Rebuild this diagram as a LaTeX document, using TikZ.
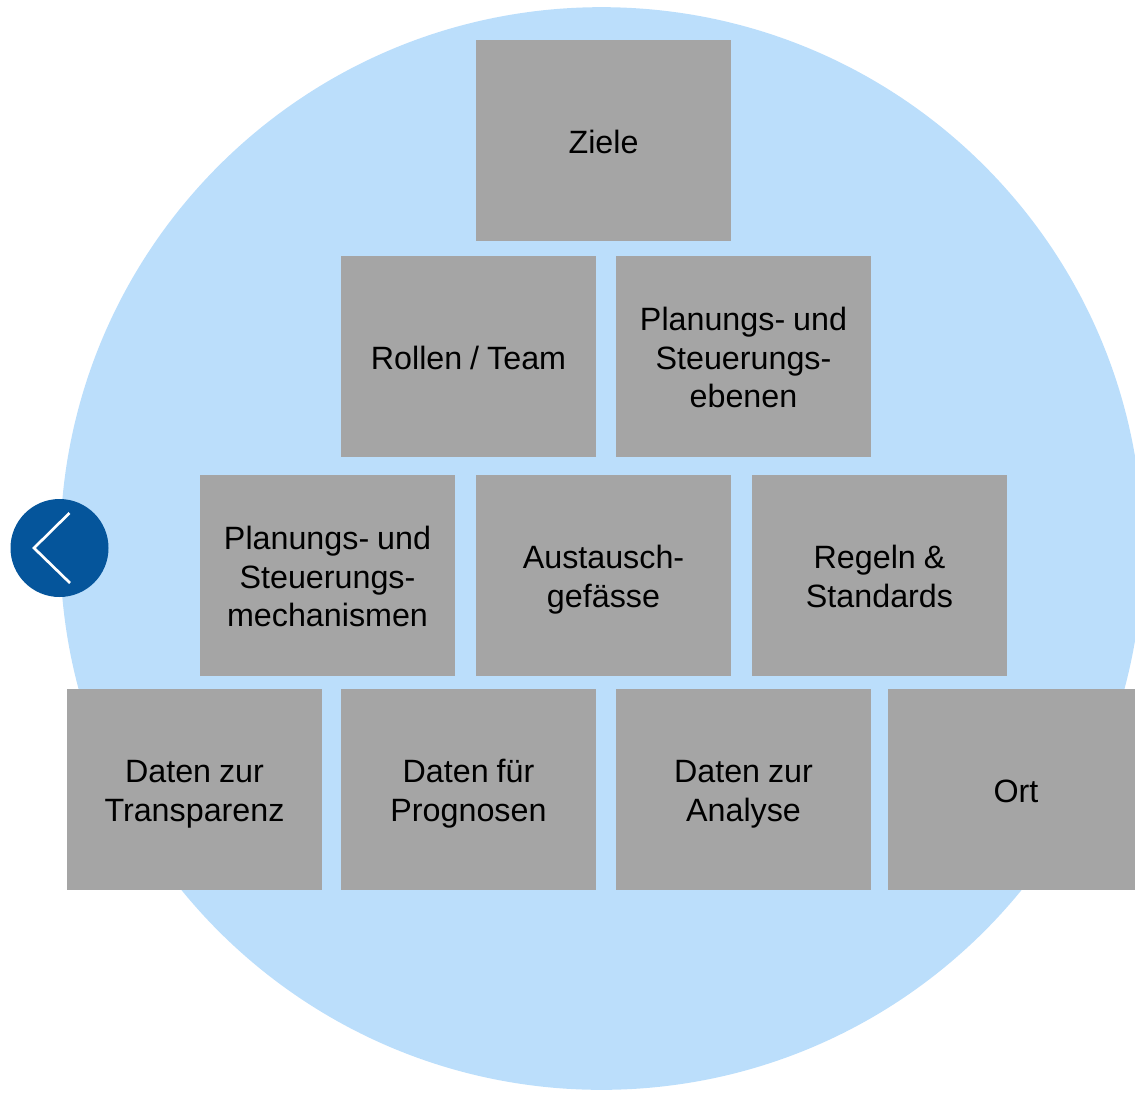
\documentclass[tikz,border=0pt]{standalone}
\usepackage{fontspec}
\setmainfont{Liberation Sans}
\usetikzlibrary{positioning}
\definecolor{circleblue}{RGB}{187,222,251}
\definecolor{boxgray}{RGB}{165,165,165}
\definecolor{backblue}{RGB}{5,85,155}
\newcommand{\boxstrut}{\rule{0pt}{\dimexpr0.7\baselineskip+7.5pt\relax}}
\tikzset{basic/.style={fill=boxgray,minimum width=191.25pt,minimum height=150.75pt,inner sep=0pt,align=center,text width=185pt,font=\fontsize{24.2}{28.9}\selectfont,execute at begin node={\spaceskip=0.245em\relax\boxstrut\strut},execute at end node=\strut}}
\tikzset{backline/.style={draw=white,line width=2pt}}
\begin{document}
\begin{tikzpicture}[x=0.75pt,y=-0.75pt]
        \useasboundingbox (0,0) rectangle (1135,1093);
        \begin{scope}
            \clip (0,0) rectangle (1135,1093);
            \node[circle,fill=circleblue,minimum size=812pt,inner sep=0pt] (disc) at (601.5,548.5) {};
        % bottom row
        \node[basic,minimum width=185.25pt] (ort) at (1011.5,789.5) {\hspace*{6.75pt}Ort};
        \end{scope}
        \node[basic] (ziele) at (603.5,140.5) {Ziele};
        \node[basic] (rollen) at (468.5,356.5) {Rollen / Team};
        \node[basic] (ebenen) at (743.5,356.5) {Planungs- und\\Steuerungs-\\ebenen};
        \node[basic] (mechanismen) at (327.5,575.5) {Planungs- und\\Steuerungs-\\mechanismen};
        \node[basic] (gefaesse) at (603.5,575.5) {Austausch-\\gef\"asse};
        \node[basic] (regeln) at (879.5,575.5) {Regeln \&\\Standards};
        \node[basic] (transparenz) at (194.5,789.5) {Daten zur\\Transparenz};
        \node[basic] (prognosen) at (468.5,789.5) {Daten f\"ur\\Prognosen};
        \node[basic] (analyse) at (743.5,789.5) {Daten zur\\Analyse};
        % back button
        \node[circle,fill=backblue,minimum size=73.5pt,inner sep=0pt] (back) at (59.5,548) {};
        \coordinate (backtop) at (69.5,513);
        \coordinate (backtip) at (34,548);
        \coordinate (backbottom) at (70,583);
        \draw[backline] (backtop) -- (backtip) -- (backbottom);
    \end{tikzpicture}
\end{document}
